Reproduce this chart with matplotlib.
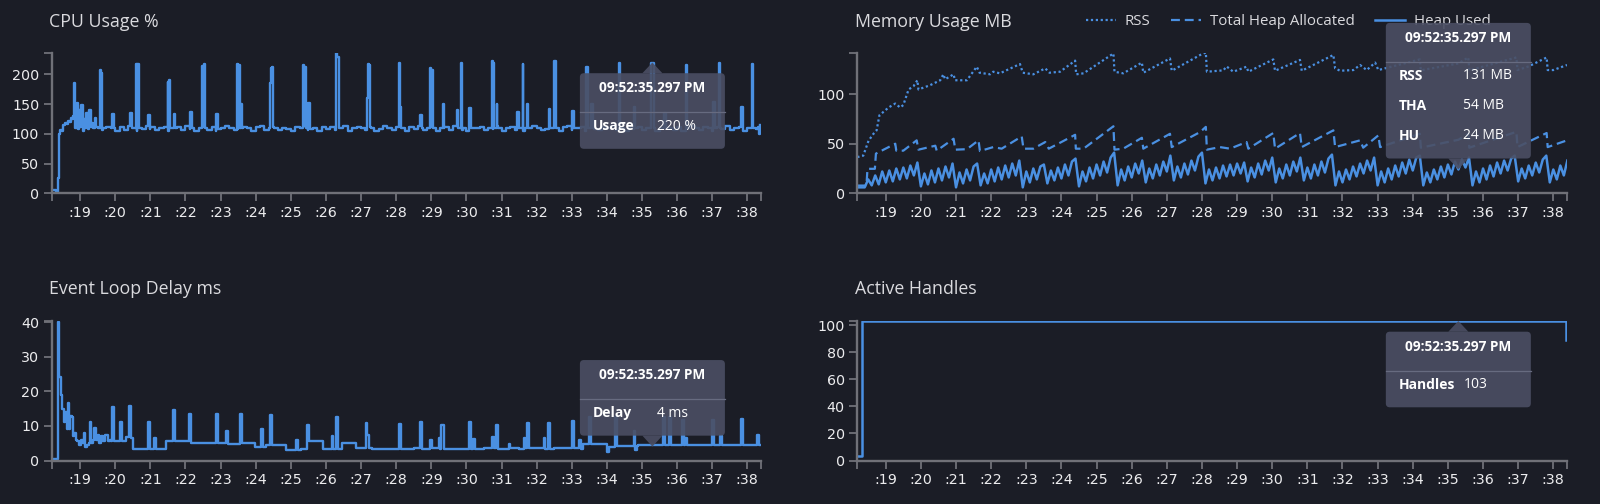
import numpy as np
import matplotlib
matplotlib.use("Agg")
import matplotlib.pyplot as plt
from matplotlib.patches import FancyBboxPatch, Polygon

# ---- data (seconds past 09:52) ----
cpu_start_t = [18.22, 18.30, 18.37, 18.40, 18.43, 18.47, 18.52, 18.57, 18.62, 18.66,
               18.70, 18.74, 18.78, 18.81, 18.83, 18.86, 18.90, 18.93, 18.96, 19.00,
               19.03, 19.07, 19.10, 19.14, 19.18, 19.22, 19.26, 19.30, 19.34, 19.38,
               19.42, 19.46]
cpu_start_v = [5, 3, 25, 100, 106, 104, 115, 118, 116, 122,
               120, 127, 125, 130, 185, 110, 152, 108, 140, 112,
               148, 105, 125, 110, 135, 108, 140, 112, 118, 110,
               126, 112]
# steady part, one sample every 0.125 s from 19.5 s
cpu_base_v = [110, 106, 112, 109, 104, 111, 107, 113, 110, 105, 108, 114, 111, 106, 109, 112, 104, 110, 111, 107,
              113, 108, 105, 110, 112, 107, 111, 104, 109, 113, 110, 106, 108, 112, 109, 105, 111, 114, 107, 110,
              112, 106, 110, 108, 104, 111, 109, 113, 107, 110, 105, 112, 108, 111, 106, 110, 113, 104, 109, 112,
              110, 107, 111, 105, 108, 114, 110, 106, 112, 109, 104, 111, 108, 113, 107, 110, 112, 105, 109, 111,
              106, 113, 110, 107, 104, 111, 109, 112, 106, 110, 108, 114, 105, 110, 112, 107, 111, 104, 109, 113,
              110, 106, 108, 112, 109, 105, 111, 113, 107, 110, 112, 104, 110, 108, 106, 111, 109, 113, 107, 110,
              105, 112, 108, 111, 106, 110, 114, 104, 109, 112, 110, 107, 111, 105, 108, 113, 110, 106, 112, 109,
              104, 111, 108, 113, 107, 110, 112, 105, 109, 111, 108]
cpu_spike_t = [19.56, 19.60, 19.64, 19.92, 19.97, 20.42, 20.47, 20.59, 20.63, 20.67,
               20.93, 20.98, 21.49, 21.53, 21.57, 21.66, 21.71, 22.13, 22.18, 22.48,
               22.52, 22.56, 22.88, 22.93, 23.46, 23.50, 23.55, 23.57, 23.61, 24.40,
               24.43, 24.47, 24.51, 25.35, 25.39, 25.43, 25.50, 25.54, 26.28, 26.32,
               26.36, 27.16, 27.19, 27.23, 27.27, 28.07, 28.11, 28.14, 28.69, 28.74,
               28.97, 29.01, 29.05, 29.32, 29.37, 29.74, 29.78, 29.85, 29.89, 30.08,
               30.13, 30.72, 30.76, 30.80, 30.86, 30.90, 31.45, 31.50, 31.62, 31.66,
               31.74, 31.79, 32.34, 32.39, 32.50, 32.54, 33.02, 33.07, 33.42, 33.46,
               33.55, 33.60, 34.35, 34.39, 34.76, 34.81, 35.27, 35.33, 35.63, 35.68,
               36.25, 36.29, 37.02, 37.07, 37.18, 37.22, 37.82, 37.87, 38.13, 38.17,
               38.30, 38.34, 38.37]
cpu_spike_v = [207, 203, 110, 133, 109, 135, 110, 217, 217, 110,
               132, 108, 188, 190, 110, 133, 110, 137, 109, 214,
               217, 110, 133, 108, 217, 215, 110, 150, 110, 185,
               210, 212, 110, 215, 213, 110, 152, 108, 236, 230,
               110, 160, 217, 216, 110, 220, 145, 110, 131, 110,
               211, 208, 110, 151, 110, 140, 110, 220, 110, 144,
               110, 223, 220, 110, 151, 110, 137, 110, 217, 110,
               151, 110, 141, 110, 223, 110, 139, 110, 212, 110,
               150, 110, 219, 110, 145, 110, 220, 110, 135, 110,
               215, 110, 154, 110, 220, 110, 146, 110, 217, 110,
               112, 100, 115]

rss_t = [18.19, 18.36, 18.51, 18.65, 18.74, 18.82, 18.93, 19.08, 19.27, 19.41,
         19.50, 19.65, 19.79, 19.90, 19.93, 20.26, 20.55, 20.64, 20.69, 20.93,
         20.97, 21.31, 21.59, 21.67, 21.97, 22.06, 22.25, 22.82, 22.90, 23.20,
         23.54, 23.66, 23.96, 24.39, 24.42, 24.63, 25.48, 25.51, 25.76, 26.29,
         26.33, 27.09, 27.14, 27.95, 28.11, 28.14, 28.61, 28.70, 28.89, 29.27,
         29.32, 30.03, 30.08, 30.79, 30.84, 31.74, 31.79, 31.93, 32.31, 32.50,
         32.69, 32.93, 33.02, 34.20, 34.23, 35.30, 35.58, 35.61, 36.95, 36.98,
         37.30, 37.81, 37.84, 38.00, 38.39]
rss_v = [36.5, 38, 53, 60, 63.5, 78.7, 82, 86.5, 90.5, 86.5,
         89, 104.7, 108, 114, 104.7, 109, 114, 120, 115, 120,
         114, 114, 127.7, 121.6, 120, 122.6, 121, 130.4, 121.6, 120,
         126, 121.6, 122.6, 133.8, 120, 121, 141, 122.6, 121, 131.8,
         121.6, 136, 123.6, 139.5, 142, 122.6, 124, 128, 122.6, 127.7,
         122.6, 135, 123.6, 134.5, 123.6, 139.5, 126, 123.6, 124.3, 129.4,
         124.3, 131.8, 124.3, 135, 124, 131, 137, 124, 137, 124.3,
         128, 137, 124.3, 124.3, 129.4]

tha_t = [18.19, 18.45, 18.48, 18.69, 18.72, 18.80, 19.27, 19.30, 19.50, 19.88,
         19.93, 20.41, 20.45, 20.93, 20.98, 21.31, 21.64, 21.68, 22.06, 22.30,
         22.87, 22.92, 23.20, 23.54, 23.64, 24.39, 24.41, 24.63, 25.48, 25.51,
         25.76, 26.29, 26.33, 27.09, 27.14, 27.95, 28.11, 28.14, 28.51, 28.80,
         29.27, 29.32, 30.03, 30.08, 30.79, 30.84, 31.74, 31.79, 32.50, 32.59,
         33.02, 33.07, 34.20, 34.23, 35.30, 35.58, 35.61, 36.95, 36.98, 37.81,
         37.84, 38.39]
tha_v = [7.8, 7.8, 24.7, 24.7, 40, 41.5, 50, 43, 43, 53.4,
         44, 48, 43, 55, 44, 44.5, 53.4, 42.6, 46.6, 45,
         57.4, 45, 45, 51.7, 45, 59, 45, 45, 67.6, 44,
         45, 56, 45, 60, 46.6, 61.8, 67, 44, 46.6, 45,
         51.7, 45, 60.8, 45, 60.8, 46.6, 63.5, 46.6, 53.4, 46,
         58.4, 46.6, 60, 46, 54, 60, 46, 62, 46.6, 60.8,
         46.6, 53.4]

# heap used, one sample every 0.1 s from 18.2 s
heap_used = [6, 6, 6, 14, 8, 18, 9, 22,
             11, 23, 12, 25, 14, 26, 15, 28, 18, 31,
             7, 20, 9, 23, 11, 25, 13, 27, 16, 30,
             6, 21, 10, 24, 13, 27, 30, 8, 20, 10,
             24, 12, 26, 14, 28, 16, 30, 18, 33, 6,
             22, 11, 25, 14, 27, 29, 10, 23, 13, 26,
             15, 29, 18, 32, 35, 7, 22, 12, 26, 15,
             29, 18, 32, 21, 36, 41, 8, 24, 13, 27,
             16, 30, 20, 33, 11, 25, 15, 29, 18, 32,
             22, 38, 13, 27, 16, 30, 19, 33, 23, 37,
             41, 10, 24, 13, 26, 15, 28, 17, 29, 18,
             30, 20, 31, 12, 26, 16, 30, 19, 33, 23,
             36, 11, 25, 15, 29, 18, 32, 22, 36, 13,
             26, 15, 29, 18, 32, 21, 35, 39, 8, 22,
             11, 24, 14, 27, 17, 30, 20, 33, 23, 36,
             8, 22, 11, 25, 14, 28, 17, 31, 20, 34,
             23, 36, 38, 8, 21, 11, 24, 14, 27, 16,
             29, 19, 32, 24, 34, 26, 36, 8, 22, 11,
             25, 14, 28, 17, 31, 20, 33, 23, 35, 38,
             12, 25, 15, 28, 18, 31, 21, 34, 38, 11,
             24, 14, 28, 18, 33]

delay_start_t = [18.22, 18.35, 18.36, 18.40, 18.45, 18.49, 18.54, 18.58, 18.62, 18.66,
                 18.69, 18.72, 18.76, 18.80, 18.83, 18.87, 18.92, 18.97, 19.02, 19.07,
                 19.11, 19.15, 19.20, 19.24, 19.28, 19.32, 19.36, 19.40, 19.45, 19.50,
                 19.55, 19.60, 19.66, 19.72, 19.78, 19.84]
delay_start_v = [0.5, 0.5, 40, 24, 19, 15, 11, 14, 9, 16.5,
                 9, 13, 12.5, 7, 8, 6, 5.5, 4.5, 6, 5,
                 8, 4, 4.5, 5, 11, 5, 6, 9.5, 6, 7.5,
                 5, 7, 5.5, 7.5, 5.5, 6]
delay_base_t = [19.88, 20.30, 20.50, 21.45, 22.5, 23.0, 23.9, 23.97, 24.3, 24.85,
                25.3, 25.45, 25.92, 26.45, 26.85, 27.3, 28.5, 29.5, 30.5, 31.5,
                32.5, 33.33, 34.1, 34.9, 35.5, 36.5, 37.5, 38.39]
delay_base_v = [5.5, 6.8, 3.2, 5.5, 5.0, 5.0, 5.0, 4.0, 4.5, 3.0,
                3.2, 3.5, 3.3, 5.0, 3.5, 3.3, 3.6, 3.3, 3.5, 3.4,
                3.6, 4.8, 4.0, 4.5, 4.4, 4.6, 4.5, 4.6]
delay_spike_t = [19.91, 19.97, 20.13, 20.19, 20.40, 20.46, 20.93, 20.99, 21.10, 21.15,
                 21.64, 21.70, 22.11, 22.17, 22.87, 22.93, 23.15, 23.21, 23.55, 23.61,
                 24.16, 24.22, 24.41, 24.47, 25.14, 25.20, 25.47, 25.53, 26.16, 26.21,
                 26.28, 26.34, 27.13, 27.18, 27.23, 28.09, 28.15, 28.67, 28.73, 28.97,
                 29.03, 29.21, 29.26, 29.29, 29.35, 30.07, 30.13, 30.19, 30.24, 30.73,
                 30.78, 30.83, 30.89, 31.20, 31.25, 31.63, 31.68, 31.73, 31.79, 32.20,
                 32.25, 32.32, 32.38, 33.00, 33.06, 33.22, 33.27, 33.50, 33.56, 34.00,
                 34.06, 34.24, 34.30, 34.76, 34.81, 34.86, 35.61, 35.67, 35.76, 35.82,
                 36.13, 36.19, 36.22, 36.27, 37.00, 37.06, 37.22, 37.27, 37.81, 37.87,
                 38.27, 38.32]
delay_spike_v = [15.6, 5.5, 11.2, 5.5, 15.7, 6.5, 11.1, 3.2, 6.5, 3.4,
                 14.6, 5.5, 13.5, 5.0, 13.4, 5.0, 8.5, 4.8, 13.4, 5.0,
                 9.0, 4.0, 13.2, 4.5, 6.0, 3.0, 10.3, 5.5, 7.0, 3.2,
                 12.5, 3.4, 10.8, 7.5, 3.5, 10.5, 3.4, 11.0, 3.2, 6.0,
                 3.5, 6.4, 3.4, 10.4, 3.4, 11.0, 3.4, 6.3, 3.3, 6.8,
                 3.5, 10.4, 3.4, 4.9, 3.5, 6.6, 3.6, 10.9, 3.5, 6.4,
                 3.4, 10.7, 3.3, 11.4, 3.5, 6.0, 3.4, 12.6, 4.8, 2.6,
                 4.0, 12.6, 4.2, 8.5, 3.0, 4.2, 12.6, 4.6, 12.6, 4.5,
                 11.8, 4.6, 6.6, 4.6, 11.8, 4.5, 7.0, 4.6, 12.1, 4.5,
                 7.4, 4.6]

handles_t = [18.19, 18.33, 38.35]
handles_v = [3, 103, 89]

hover_t = 35.297
hover_label = "09:52:35.297 PM"
sec_ticks = list(range(19, 39))
sec_labels = [":%d" % s for s in sec_ticks]

# ---- style ----
W, H = 1600, 504
BG = "#1b1d26"
BLUE = "#4a90e2"
AXC = "#707178"
TICKC = "#ececee"
TITLEC = "#dadade"
TIP = "#4b4f64"
UI_FONT = ["Open Sans", "DejaVu Sans"]


def merge(*parts):
    t = np.concatenate([np.asarray(p[0], float) for p in parts])
    v = np.concatenate([np.asarray(p[1], float) for p in parts])
    order = np.argsort(t, kind="stable")
    return t[order], v[order]


cpu_base_t = 19.5 + 0.125 * np.arange(len(cpu_base_v))
cpu_t, cpu_v = merge((cpu_start_t, cpu_start_v), (cpu_base_t, cpu_base_v), (cpu_spike_t, cpu_spike_v))
delay_t, delay_v = merge((delay_start_t, delay_start_v), (delay_base_t, delay_base_v),
                         (delay_spike_t, delay_spike_v))
heap_t = 18.2 + 0.1 * np.arange(len(heap_used))

fig = plt.figure(figsize=(W / 100, H / 100), dpi=100, facecolor=BG)


def px_axes(x0, y0, x1, y1):
    return fig.add_axes([x0 / W, 1 - y1 / H, (x1 - x0) / W, (y1 - y0) / H])


ax_cpu = px_axes(51.7, 52.7, 761, 193.3)
ax_mem = px_axes(857.3, 52.7, 1567, 193.3)
ax_del = px_axes(51.7, 321, 761, 460.5)
ax_han = px_axes(857.3, 321, 1567, 460.5)

ax_cpu.plot(cpu_t, cpu_v, color=BLUE, lw=1.7, drawstyle="steps-post")
l_rss, = ax_mem.plot(rss_t, rss_v, color=BLUE, lw=1.6, ls=(0, (1, 1.2)), label="RSS")
l_tha, = ax_mem.plot(tha_t, tha_v, color=BLUE, lw=1.6, ls=(0, (4, 2.2)), label="Total Heap Allocated")
l_hu, = ax_mem.plot(heap_t, heap_used, color=BLUE, lw=1.8, label="Heap Used")
ax_del.plot(delay_t, delay_v, color=BLUE, lw=1.7, drawstyle="steps-post")
ax_han.plot(handles_t, handles_v, color=BLUE, lw=1.8, drawstyle="steps-post")

limits = [(ax_cpu, 236.5, [0, 50, 100, 150, 200]),
          (ax_mem, 141.8, [0, 50, 100]),
          (ax_del, 40.3, [0, 10, 20, 30, 40]),
          (ax_han, 103, [0, 20, 40, 60, 80, 100])]
for ax, ytop, yt in limits:
    ax.set_facecolor(BG)
    ax.set_xlim(18.19, 38.39)
    ax.set_ylim(0, ytop)
    ax.set_xticks(sec_ticks)
    ax.set_xticklabels(sec_labels)
    ax.set_yticks(yt)
    ax.set_xticks([18.19, 38.39], minor=True)
    ax.set_yticks([ytop], minor=True)
    for s in ("top", "right"):
        ax.spines[s].set_visible(False)
    for s in ("left", "bottom"):
        ax.spines[s].set_color(AXC)
        ax.spines[s].set_linewidth(1.7)
    ax.tick_params(which="both", length=6, width=1.3, color=AXC, labelcolor=TICKC,
                   labelsize=10.3, pad=3)

titles = [("CPU Usage %", 49, 21.7), ("Memory Usage MB", 855, 21.7),
          ("Event Loop Delay ms", 49, 289.3), ("Active Handles", 855, 289.3)]
for txt, x, y in titles:
    fig.text(x / W, 1 - y / H, txt, ha="left", va="center", fontsize=12.8,
             color=TITLEC, family=UI_FONT)

ax_mem.legend(handles=[l_rss, l_tha, l_hu], loc="center left",
              bbox_to_anchor=(1086 / W, 1 - 21.7 / H), bbox_transform=fig.transFigure,
              ncol=3, frameon=False, handlelength=2.0, handletextpad=0.6,
              columnspacing=1.35, borderpad=0, borderaxespad=0, labelcolor=TITLEC,
              prop={"family": UI_FONT, "size": 10.8})

# ---- hover tooltips, drawn on a pixel overlay ----
ov = fig.add_axes([0, 0, 1, 1], zorder=10)
ov.set_xlim(0, W)
ov.set_ylim(H, 0)
ov.axis("off")
ov.patch.set_alpha(0)


def tooltip(ax, value, rows, up):
    px, py = ax.transData.transform((hover_t, value))
    py = H - py
    w = 145
    h = 45.6 + 30 * len(rows)
    left = px - w / 2
    top = py + 10.7 if up else py - 11 - h
    ov.add_patch(FancyBboxPatch((left, top), w, h, boxstyle="round,pad=0,rounding_size=4",
                                fc=TIP, ec="none", alpha=0.9))
    base = top if up else top + h
    ov.add_patch(Polygon([(px - 10, base), (px, py), (px + 10, base)], closed=True,
                         fc=TIP, ec="none", alpha=0.9))
    ov.plot([left, left + w], [top + 39, top + 39], color="#676b80", lw=0.9)
    ov.text(px, top + 15, hover_label, ha="center", va="center", fontsize=9.8,
            fontweight="bold", color="white", family=UI_FONT)
    for i, (lab, val) in enumerate(rows):
        y = top + 53 + 30 * i
        ov.text(left + 13, y, lab, ha="left", va="center", fontsize=10,
                fontweight="bold", color="white", family=UI_FONT)
        ov.text(left + 77.5, y, val, ha="left", va="center", fontsize=10,
                color="white", family=UI_FONT)


tooltip(ax_cpu, 220, [("Usage", "220 %")], up=True)
tooltip(ax_mem, 24, [("RSS", "131 MB"), ("THA", "54 MB"), ("HU", "24 MB")], up=False)
tooltip(ax_del, 4, [("Delay", "4 ms")], up=False)
tooltip(ax_han, 103, [("Handles", "103")], up=True)

fig.savefig("out.png", dpi=100, facecolor=BG)
